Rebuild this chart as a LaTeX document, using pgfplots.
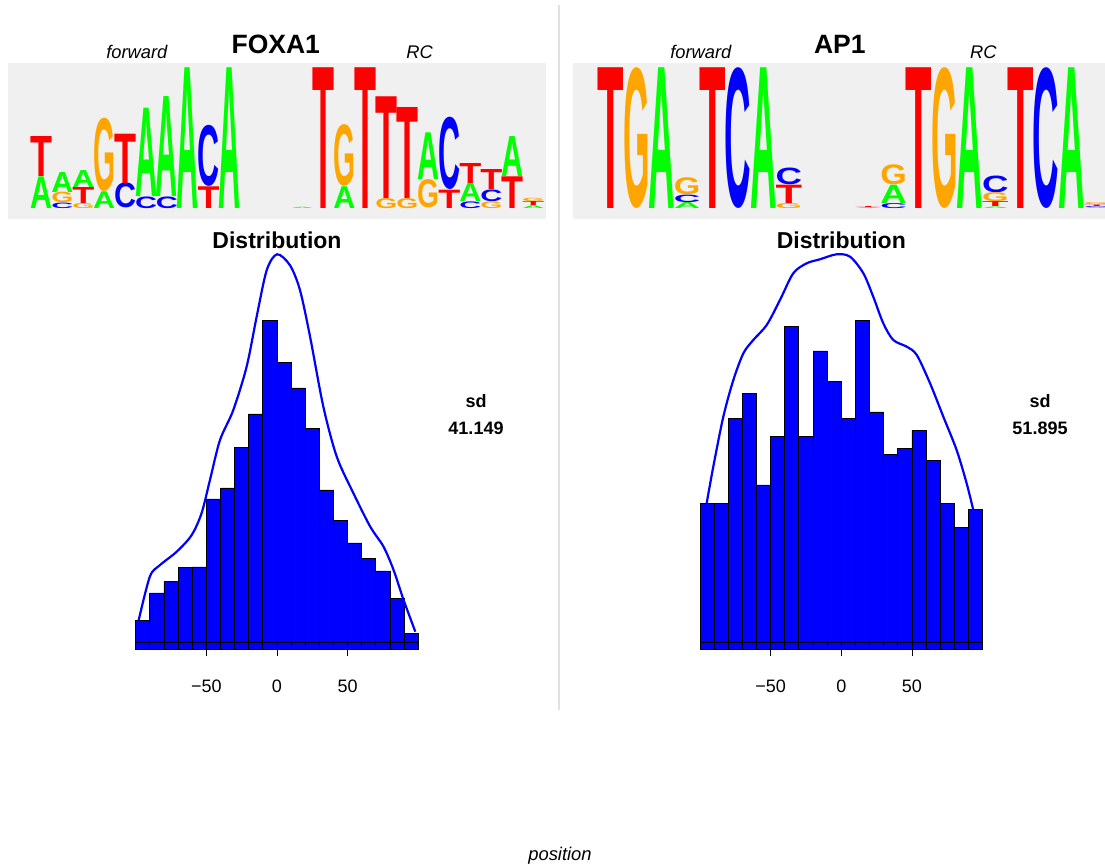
\documentclass[border=0pt]{standalone}
\usepackage{pgfplots}
\pgfplotsset{compat=1.18}
\usepackage{fontspec}
\setmainfont{Liberation Sans}
\usepackage{graphicx}
\definecolor{lA}{RGB}{0,255,0}
\definecolor{lC}{RGB}{0,0,255}
\definecolor{lG}{RGB}{255,165,0}
\definecolor{lT}{RGB}{255,0,0}
\definecolor{logobg}{RGB}{240,240,240}
\definecolor{divider}{RGB}{225,225,225}

\newcommand{\logoplot}[4]{%
 \addplot[only marks, mark=none,
   visualization depends on={value \thisrow{h}\as\hh},
   nodes near coords={\resizebox*{#3pt}{\hh pt}{\fontsize{20}{20}\selectfont\bfseries #2}},
   nodes near coords align={anchor=south},
   every node near coord/.append style={anchor=south, inner sep=0pt, outer sep=0pt, text=#1}]
   table[x=x,y=y,row sep=\\]{#4};
}

\begin{document}
\begin{tikzpicture}
\useasboundingbox (0,0) rectangle (1105pt,865pt);
% ---------- background axis in reference pixel coordinates
\begin{axis}[at={(0pt,0pt)},anchor=south west,scale only axis,
  width=1105pt,height=865pt,xmin=0,xmax=1105,ymin=0,ymax=865,
  y dir=reverse,hide axis,clip=false]
\addplot[color=divider,line width=2pt] coordinates {(559.3,5)(559.3,710)};
\node[anchor=base,font=\fontsize{26.5}{30}\selectfont\bfseries] at (axis cs:275.8,53.3) {FOXA1};
\node[anchor=base,font=\fontsize{18.3}{20}\selectfont\itshape] at (axis cs:136.8,58.3) {forward};
\node[anchor=base,font=\fontsize{18.3}{20}\selectfont\itshape] at (axis cs:419.7,58.3) {RC};
\node[anchor=base,font=\fontsize{26.5}{30}\selectfont\bfseries] at (axis cs:839.8,53.3) {AP1};
\node[anchor=base,font=\fontsize{18.3}{20}\selectfont\itshape] at (axis cs:700.8,58.3) {forward};
\node[anchor=base,font=\fontsize{18.3}{20}\selectfont\itshape] at (axis cs:983.4,58.3) {RC};
\node[anchor=base,font=\fontsize{23}{26}\selectfont\bfseries] at (axis cs:277,248) {Distribution};
\node[anchor=base,font=\fontsize{23}{26}\selectfont\bfseries] at (axis cs:841.3,248) {Distribution};
\node[font=\fontsize{18}{20}\selectfont\bfseries] at (axis cs:476,400.7) {sd};
\node[font=\fontsize{18}{20}\selectfont\bfseries] at (axis cs:476,428.3) {41.149};
\node[font=\fontsize{18}{20}\selectfont\bfseries] at (axis cs:1040,400.7) {sd};
\node[font=\fontsize{18}{20}\selectfont\bfseries] at (axis cs:1040,428.3) {51.895};
\node[font=\fontsize{18.4}{20}\selectfont\itshape] at (axis cs:560,855.7) {position};
\end{axis}

% ---------- FOXA1 logo
\begin{axis}[at={(8.3pt,645.7pt)},anchor=south west,scale only axis,
  width=537.7pt,height=156pt,xmin=8.3,xmax=546,ymin=0,ymax=156,
  hide axis,clip=false]
\addplot[fill=logobg,draw=none] coordinates {(8.3,0)(546,0)(546,156)(8.3,156)} --cycle;
\logoplot{lA}{A}{22}{x y h\\ 41.5 11 31.7\\ 62.4 27 20\\ 83.3 32 17\\ 104.2 11 16.7\\ 146 22.7 88.3\\ 166.9 22.7 100\\ 187.8 11 140.7\\ 229.6 11 140.7\\
 302.3 11 1.2\\ 344.3 11 21.7\\ 428.3 39.3 46.7\\ 470.3 17.7 18.3\\ 512.3 42.7 40\\ 533.3 11 2.7\\}
\logoplot{lC}{C}{22}{x y h\\ 62.4 11 5.5\\ 125.1 11 25\\ 146 11 11.7\\ 166.9 11 11.7\\ 208.7 32.7 61\\
 449.3 29.3 72.3\\ 470.3 11 6.7\\ 491.3 17.7 11.7\\}
\logoplot{lG}{G}{22}{x y h\\ 62.4 16.5 10.5\\ 83.3 11 5\\ 104.2 27.7 73.3\\
 344.3 32.7 61.7\\ 386.3 11 10\\ 407.3 11 10\\ 428.3 11 28.3\\ 491.3 11 6.7\\ 533.3 17.7 3.3\\}
\logoplot{lT}{T}{22}{x y h\\ 41.5 42.7 40\\ 83.3 16 16\\ 125.1 36 49.3\\ 208.7 11 21.7\\
 323.3 11 140.7\\ 365.3 11 140.7\\ 386.3 21 101.7\\ 407.3 21 91\\ 449.3 11 18.3\\ 470.3 36 20\\ 491.3 29.4 20\\ 512.3 11 31.7\\ 533.3 13.7 4\\}
\end{axis}

% ---------- AP1 logo
\begin{axis}[at={(572.7pt,645.7pt)},anchor=south west,scale only axis,
  width=537.7pt,height=156pt,xmin=572.7,xmax=1110.4,ymin=0,ymax=156,
  hide axis,clip=false]
\addplot[fill=logobg,draw=none] coordinates {(572.7,0)(1110.4,0)(1110.4,156)(572.7,156)} --cycle;
\logoplot{lA}{A}{26.5}{x y h\\ 661.8 11 140.7\\ 687.2 11 6\\ 763.4 11 140.7\\
 868.3 11 1\\ 893.7 16 18.3\\ 969.9 11 140.7\\ 995.3 11 1.5\\ 1071.5 11 140.7\\ 1096.9 11 1\\}
\logoplot{lC}{C}{26.5}{x y h\\ 687.2 17 7.5\\ 738 11 140.7\\ 788.8 34.3 16.7\\
 893.7 11 5\\ 995.3 26.5 16.7\\ 1046.1 11 140.7\\ 1096.9 12 1\\}
\logoplot{lG}{G}{26.5}{x y h\\ 636.4 11 140.7\\ 687.2 24.5 17\\ 788.8 11 5\\
 893.7 34.3 20\\ 944.5 11 140.7\\ 995.3 17.5 9\\ 1096.9 14.5 2\\}
\logoplot{lT}{T}{26.5}{x y h\\ 611 11 140.7\\ 712.6 11 140.7\\ 788.8 16 18.3\\
 868.3 12 1\\ 919.1 11 140.7\\ 995.3 12.5 5\\ 1020.7 11 140.7\\ 1096.9 13 1.5\\}
\end{axis}

% ---------- histogram style
\pgfplotsset{histax/.style={anchor=south west,scale only axis,
  width=282.6pt,height=400pt,xmin=-100,xmax=100,ymin=0,ymax=400,
  axis x line=bottom,axis y line=none,x axis line style={-,black,line width=0.9pt},
  xtick={-50,0,50},xticklabels={−50,0,50},tick align=outside,
  major tick length=7pt,tick style={black,line width=0.9pt},
  xticklabel style={font=\fontsize{18}{20}\selectfont,yshift=-20pt},
  clip=false}}

% ---------- FOXA1 histogram
\begin{axis}[histax,at={(135.7pt,215.7pt)}]
\addplot[ybar interval,fill=blue,draw=black,line width=0.9pt] coordinates {
(-100,29)(-90,56.3)(-80,67.6)(-70,81.6)(-60,82.3)(-50,150.3)(-40,161.3)(-30,201.6)(-20,235.3)(-10,329)
(0,286.6)(10,261.3)(20,221)(30,159.3)(40,128.6)(50,106.3)(60,91)(70,78.3)(80,51)(90,16.3)(100,16.3)};
\addplot[black,line width=1.2pt] coordinates {(-100,7)(100,7)};
\addplot[blue,line width=2.2pt,smooth,tension=0.5] coordinates {
(-97.9,29)(-90,72.6)(-83,84)(-71,97.6)(-60.5,114)(-53.4,136)(-47.5,169)(-40.4,209)(-31,239)(-21.5,282.6)
(-14.4,332.6)(-7.3,379)(0,395)(9.2,384)(16.3,359)(23.4,312.6)(32.8,242.6)(42.3,192.6)(54.1,156)(66,122.6)
(75.4,102.6)(82.5,79.3)(89.6,49.3)(97.9,17.6)};
\end{axis}

% ---------- AP1 histogram
\begin{axis}[histax,at={(700pt,215.7pt)}]
\addplot[ybar interval,fill=blue,draw=black,line width=0.9pt] coordinates {
(-100,146)(-90,146)(-80,231)(-70,255.6)(-60,164.3)(-50,213)(-40,322.6)(-30,213)(-20,298.3)(-10,268)
(0,231)(10,329)(20,237.3)(30,194.6)(40,200.6)(50,219)(60,188.6)(70,146)(80,121.6)(90,140)(100,140)};
\addplot[black,line width=1.2pt] coordinates {(-100,7)(100,7)};
\addplot[blue,line width=2.2pt,smooth,tension=0.5] coordinates {
(-95.3,146)(-90.6,182.6)(-83.5,232.6)(-76.4,269.3)(-69.3,296)(-62.3,309.3)(-52.8,324.3)(-43.4,349.3)
(-34,376)(-24.5,386)(-15.1,390)(-3.3,395)(6.2,392.6)(15.6,376)(22.6,352.6)(29.7,326)(36.8,309.3)
(46.3,302.6)(53.4,294.3)(62.8,266)(72.2,232.6)(81.6,199.3)(88.7,166)(93.4,139.3)};
\end{axis}
\end{tikzpicture}
\end{document}
